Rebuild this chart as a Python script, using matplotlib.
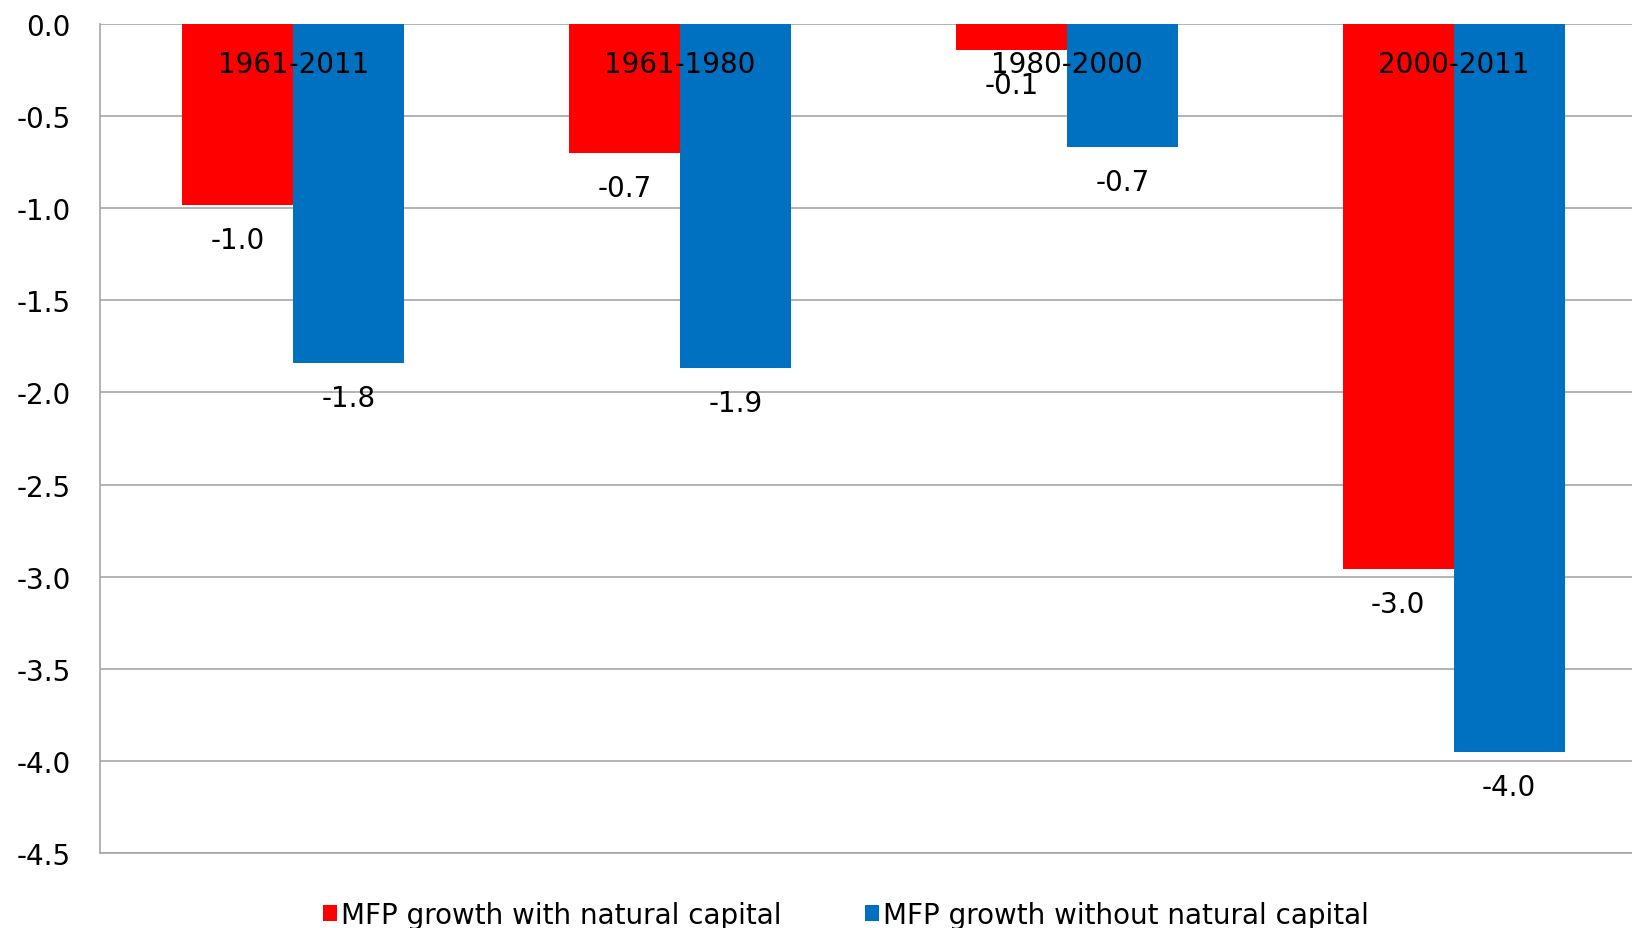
import numpy as np
import matplotlib.pyplot as plt

plt.rcParams['font.family'] = ['DejaVu Sans']
plt.rcParams['axes.unicode_minus'] = False

periods = ["1961-2011", "1961-1980", "1980-2000", "2000-2011"]
with_nc = [-0.98, -0.70, -0.14, -2.96]
without_nc = [-1.84, -1.87, -0.67, -3.95]
with_lbl = ["-1.0", "-0.7", "-0.1", "-3.0"]
without_lbl = ["-1.8", "-1.9", "-0.7", "-4.0"]

red = "#FF0000"
blue = "#0070C0"
grid = "#A6A6A6"
fs = 20

fig = plt.figure(figsize=(16.32, 9.29), dpi=100)
ax = fig.add_axes([100/1632, 75/929, 1547/1632, 829/929])

x = np.arange(len(periods))
w = 0.287
b1 = ax.bar(x - w/2, with_nc, w, color=red, label="MFP growth with natural capital", zorder=2)
b2 = ax.bar(x + w/2, without_nc, w, color=blue, label="MFP growth without natural capital", zorder=2)

ax.set_xlim(-0.5, 3.5)
ax.set_ylim(-4.5, 0)
ticks = np.arange(-4.5, 0.01, 0.5)
ax.set_yticks(ticks)
ax.set_yticklabels([f"{v:.1f}" for v in ticks])
ax.tick_params(axis='y', length=0, pad=21, labelsize=fs)
ax.set_xticks([])
ax.yaxis.grid(True, color=grid, linewidth=1.2, zorder=0)
ax.set_axisbelow(True)
for s in ['top', 'right']:
    ax.spines[s].set_visible(False)
for s in ['left', 'bottom']:
    ax.spines[s].set_color(grid)
    ax.spines[s].set_linewidth(1.2)

# value labels under each bar
for bars, lbls in ((b1, with_lbl), (b2, without_lbl)):
    for bar, t in zip(bars, lbls):
        ax.annotate(t, (bar.get_x() + bar.get_width()/2, bar.get_height()),
                    xytext=(0, -35), textcoords='offset pixels',
                    ha='center', va='center', fontsize=fs, zorder=4)

# category labels sit at the zero line
for i, p in enumerate(periods):
    ax.annotate(p, (i, 0), xytext=(0, -40), textcoords='offset pixels',
                ha='center', va='center', fontsize=fs, zorder=4)

fig.legend(loc='center', bbox_to_anchor=(846/1632, 13/929), ncol=2,
           frameon=False, fontsize=fs, handlelength=0.5, handleheight=0.5,
           handletextpad=0.15, columnspacing=3.0)

fig.savefig("out.png", dpi=100)
